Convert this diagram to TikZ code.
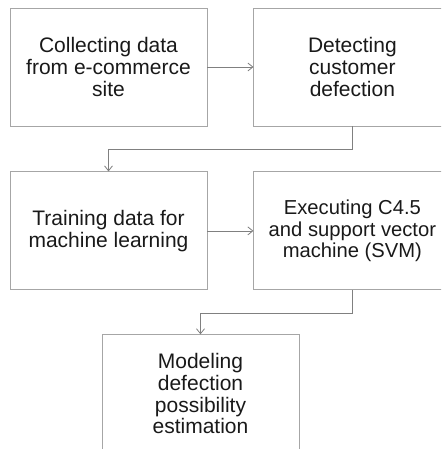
\documentclass[tikz,border=0pt]{standalone}
\usepackage{fontspec}
\setmainfont{Liberation Sans}
\usetikzlibrary{positioning,arrows.meta}

\begin{document}
\begin{tikzpicture}[node distance={45pt}, x=1pt, y=1pt,
	main/.style = {draw=black!35, line width=0.9pt, minimum width=197pt, minimum height=118pt, align=center, inner sep=0pt, text=black!90, font=\fontsize{21}{21.7}\selectfont},
	link/.style = {draw=black!50, line width=0.8pt, -{Straight Barb[length=5pt,width=8pt]}}]
		\useasboundingbox (0,0) rectangle (441,-449);
		\clip (0,0) rectangle (441,-449);
		\node[main] (1) at (108.5,-67) {Collecting data\\from e-commerce\\site};
		\node[main] (2) [right=46pt of 1] {Detecting\\customer\\defection};
		\node[main] (3) [below=45pt of 1] {Training data for\\machine learning};
		\node[main, font=\fontsize{20.2}{21.7}\selectfont] (4) [right=46pt of 3] {Executing C4.5\\and support vector\\machine (SVM)};
		\node[main, xshift=92pt] (5) [below=44pt of 3] {Modeling\\defection\\possibility\\estimation};
		
		\draw[link] (1) -- (2);
		\draw[link] (2.south) -- ++(0,-23) -| (3.north);
		\draw[link] (3) -- (4);
		\draw[link] (4.south) -- ++(0,-23) -| (5.north);
	\end{tikzpicture}
\end{document}
